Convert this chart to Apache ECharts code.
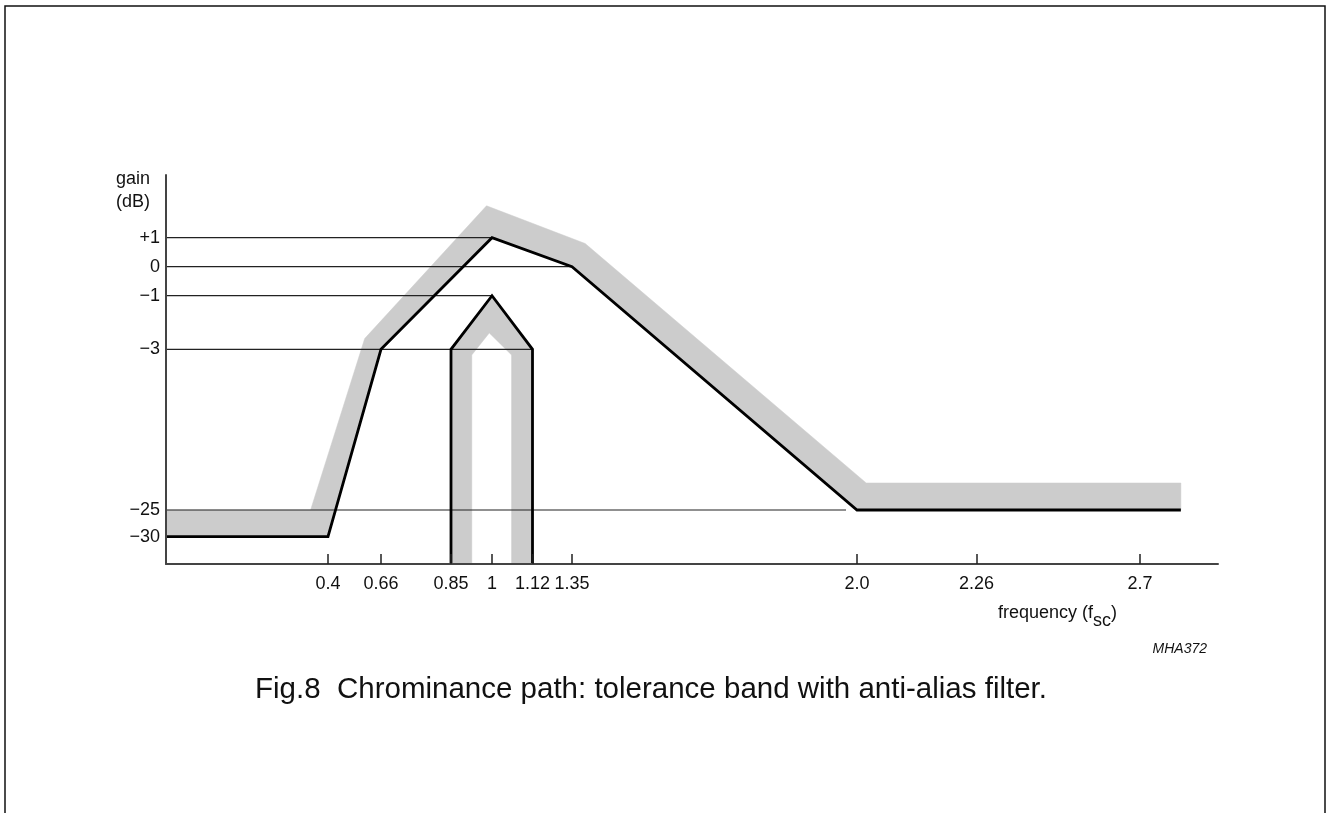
<!DOCTYPE html>
<html>
<head>
<meta charset="utf-8">
<script src="https://cdn.jsdelivr.net/npm/echarts@6/dist/echarts.min.js"></script>
<style>
html,body{margin:0;padding:0;background:#fff;}
#chart{width:1326px;height:813px;}
</style>
</head>
<body>
<div id="chart"></div>
<script>
// ---- data (frequency in f_sc, gain in dB) ----
const xTickValues = [0.4, 0.66, 0.85, 1, 1.12, 1.35, 2.0, 2.26, 2.7];
const xTickLabels = ['0.4', '0.66', '0.85', '1', '1.12', '1.35', '2.0', '2.26', '2.7'];
const yTickValues = [1, 0, -1, -3, -25, -30];
const yTickLabels = ['+1', '0', '\u22121', '\u22123', '\u221225', '\u221230'];

const xMinFreq = 0, xMaxFreq = 2.91;
const yMinGain = -35.1, yMaxGain = 3.16;

// anti-alias filter response (black) and tolerance band (grey)
const filterCurve = [[0, -30], [0.4, -30], [0.66, -3], [1, 1], [1.35, 0], [2.0, -25], [2.81, -25]];
const bandUpper   = [[0, -25], [0.357, -25], [0.58, -2.6], [0.98, 2.1], [1.38, 0.8], [2.02, -21.3], [2.81, -21.3]];
const passCurve   = [[0.85, yMinGain], [0.85, -3], [1, -1], [1.12, -3], [1.12, yMinGain]];
const passInner   = [[1.058, yMinGain], [1.058, -3.78], [0.99, -2.39], [0.926, -3.78], [0.926, yMinGain]];
// horizontal reference lines: gain level and frequency where they end
const refGains = [1, 0, -1, -3, -25];
const refEnds  = [1, 1.35, 1, 1.12, 1.975];

// ---- schematic (non-linear) axis warp ----
const xWarpFreq = [0, 0.4, 0.66, 0.85, 1, 1.12, 1.35, 2.0, 2.26, 2.7, 2.91];
const xWarpPos  = [0, 162, 215, 285, 326, 366.5, 406, 691, 810.5, 974, 1052];
const yWarpGain = [-35.1, -30, -25, -3, -1, 0, 1, 3.16];
const yWarpPos  = [0, 27.3, 54, 214.7, 268.3, 297.3, 326.3, 389];

function warp(v, ks, ps) {
  let i = 0;
  while (i < ks.length - 2 && v > ks[i + 1]) i++;
  return ps[i] + (v - ks[i]) * (ps[i + 1] - ps[i]) / (ks[i + 1] - ks[i]);
}
const X = f => warp(f, xWarpFreq, xWarpPos);
const Y = g => warp(g, yWarpGain, yWarpPos);
const P = p => [X(p[0]), Y(p[1])];

function labelFor(v, vals, labels, fn) {
  for (let i = 0; i < vals.length; i++) if (Math.abs(fn(vals[i]) - v) < 0.01) return labels[i];
  return '';
}

const FONT = "'Liberation Sans', Arial, Helvetica, sans-serif";
const GREY = '#cccccc';

const chart = echarts.init(document.getElementById('chart'), null, {renderer: 'canvas'});

const polySeries = (ring, z) => ({
  type: 'custom', z: z, silent: true, data: [[0, 0]],
  renderItem: (params, api) => ({
    type: 'polygon',
    shape: {points: ring.map(p => api.coord(P(p)))},
    style: {fill: GREY, stroke: GREY, lineWidth: 0.5}
  })
});

const series = [
  polySeries(filterCurve.concat(bandUpper.slice().reverse()), 1),
  polySeries(passCurve.concat(passInner), 1)
];
refGains.forEach((g, i) => {
  series.push({
    type: 'line', z: 3, silent: true, symbol: 'none',
    lineStyle: {color: '#222', width: 1.2},
    data: [P([xMinFreq, g]), P([refEnds[i], g])]
  });
});
series.push({
  type: 'line', z: 4, silent: true, symbol: 'none',
  lineStyle: {color: '#000', width: 2.8, join: 'miter'},
  data: filterCurve.map(P)
});
series.push({
  type: 'line', z: 4, silent: true, symbol: 'none',
  lineStyle: {color: '#000', width: 2.8, join: 'miter'},
  data: passCurve.map(P)
});

const option = {
  animation: false,
  backgroundColor: '#fff',
  grid: {left: 166, top: 175, width: 1052, height: 389, containLabel: false},
  xAxis: {
    type: 'value', min: X(xMinFreq), max: X(xMaxFreq), z: 10,
    axisLine: {show: true, lineStyle: {color: '#444', width: 2}},
    axisTick: {show: true, inside: true, length: 10, customValues: xTickValues.map(X),
               lineStyle: {color: '#222', width: 1.5}},
    axisLabel: {customValues: xTickValues.map(X), margin: 11, fontSize: 18, color: '#111', fontFamily: FONT,
                formatter: v => labelFor(v, xTickValues, xTickLabels, X)},
    splitLine: {show: false}
  },
  yAxis: {
    type: 'value', min: Y(yMinGain), max: Y(yMaxGain), z: 10,
    axisLine: {show: true, lineStyle: {color: '#444', width: 2}},
    axisTick: {show: false},
    axisLabel: {customValues: yTickValues.map(Y), margin: 6, fontSize: 18, color: '#111', fontFamily: FONT,
                formatter: v => labelFor(v, yTickValues, yTickLabels, Y)},
    splitLine: {show: false}
  },
  series: series,
  graphic: [
    {type: 'polyline', silent: true, shape: {points: [[5, 813], [5, 6], [1325, 6], [1325, 813]]},
     style: {stroke: '#111', lineWidth: 1.5, fill: null}},
    {type: 'text', left: 116, top: 168, silent: true,
     style: {text: 'gain\n(dB)', fontSize: 18, lineHeight: 23, fill: '#111', fontFamily: FONT}},
    {type: 'text', x: 998, y: 613, silent: true,
     style: {text: 'frequency (f', fontSize: 18, fill: '#111', fontFamily: FONT, verticalAlign: 'middle'}},
    {type: 'text', x: 1093, y: 621, silent: true,
     style: {text: 'sc', fontSize: 18, fill: '#111', fontFamily: FONT, verticalAlign: 'middle'}},
    {type: 'text', x: 1111, y: 613, silent: true,
     style: {text: ')', fontSize: 18, fill: '#111', fontFamily: FONT, verticalAlign: 'middle'}},
    {type: 'text', x: 1207, y: 649, silent: true,
     style: {text: 'MHA372', fontSize: 14, fontStyle: 'italic', fill: '#111', fontFamily: FONT,
             align: 'right', verticalAlign: 'middle'}},
    {type: 'text', x: 651, y: 690, silent: true,
     style: {text: 'Fig.8  Chrominance path: tolerance band with anti-alias filter.', fontSize: 29.5,
             fill: '#111', fontFamily: FONT, align: 'center', verticalAlign: 'middle'}}
  ]
};
chart.setOption(option);
</script>
</body>
</html>
